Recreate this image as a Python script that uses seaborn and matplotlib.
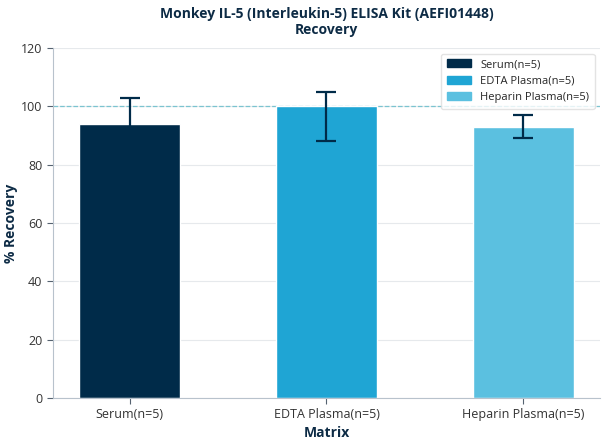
import seaborn as sns
import pandas as pd
import numpy as np
import matplotlib.pyplot as plt

# 데이터
categories = ["Serum(n=5)", "EDTA Plasma(n=5)", "Heparin Plasma(n=5)"]
recovery = [94, 100, 93]
err_low = [9, 12, 4]
err_high = [9, 5, 4]
colors = ["#002B49", "#1FA5D4", "#5BC0E0"]

df = pd.DataFrame({"Matrix": categories, "Recovery": recovery})

sns.set_theme(style="white")
plt.rcParams["font.family"] = ["Open Sans", "DejaVu Sans"]

fig = plt.figure(figsize=(6.08, 4.44), dpi=100)
ax = fig.add_axes([0.087, 0.1036, 0.9, 0.7884])

sns.barplot(data=df, x="Matrix", y="Recovery", hue="Matrix", palette=colors,
            saturation=1, width=0.51, ax=ax, legend=False, zorder=2)

ax.errorbar(np.arange(len(categories)), recovery, yerr=[err_low, err_high],
            fmt="none", ecolor="#002B49", elinewidth=1.6, capsize=7.5, capthick=1.6, zorder=3)

ax.axhline(100, color="#7BC4D0", linestyle="--", linewidth=0.9, zorder=1)

ax.set_ylim(0, 120)
ax.set_yticks(range(0, 121, 20))
ax.set_xlim(-0.39, 2.39)
ax.yaxis.grid(True, color="#E6E9EC", linewidth=0.8, zorder=0)
ax.set_axisbelow(True)

for s in ["top", "right"]:
    ax.spines[s].set_visible(False)
for s in ["left", "bottom"]:
    ax.spines[s].set_color("#B8C2CC")
    ax.spines[s].set_linewidth(0.8)

ax.tick_params(axis="both", length=4, width=0.8, color="#556270", labelsize=9,
               labelcolor="#333333", left=True, bottom=True)

ax.set_xlabel("Matrix", fontsize=10, fontweight="bold", color="#0D2B45", labelpad=3)
ax.set_ylabel("% Recovery", fontsize=10, fontweight="bold", color="#0D2B45", labelpad=2)
ax.set_title("Monkey IL-5 (Interleukin-5) ELISA Kit (AEFI01448)\nRecovery",
             fontsize=10, fontweight="bold", color="#0D2B45", pad=10)

handles = [plt.Rectangle((0, 0), 1, 1, color=c) for c in colors]
ax.legend(handles, categories, loc="upper right", fontsize=8, frameon=True,
          edgecolor="#DDDDDD", handlelength=2.2, borderpad=0.5)

fig.savefig("out.png", dpi=100)
